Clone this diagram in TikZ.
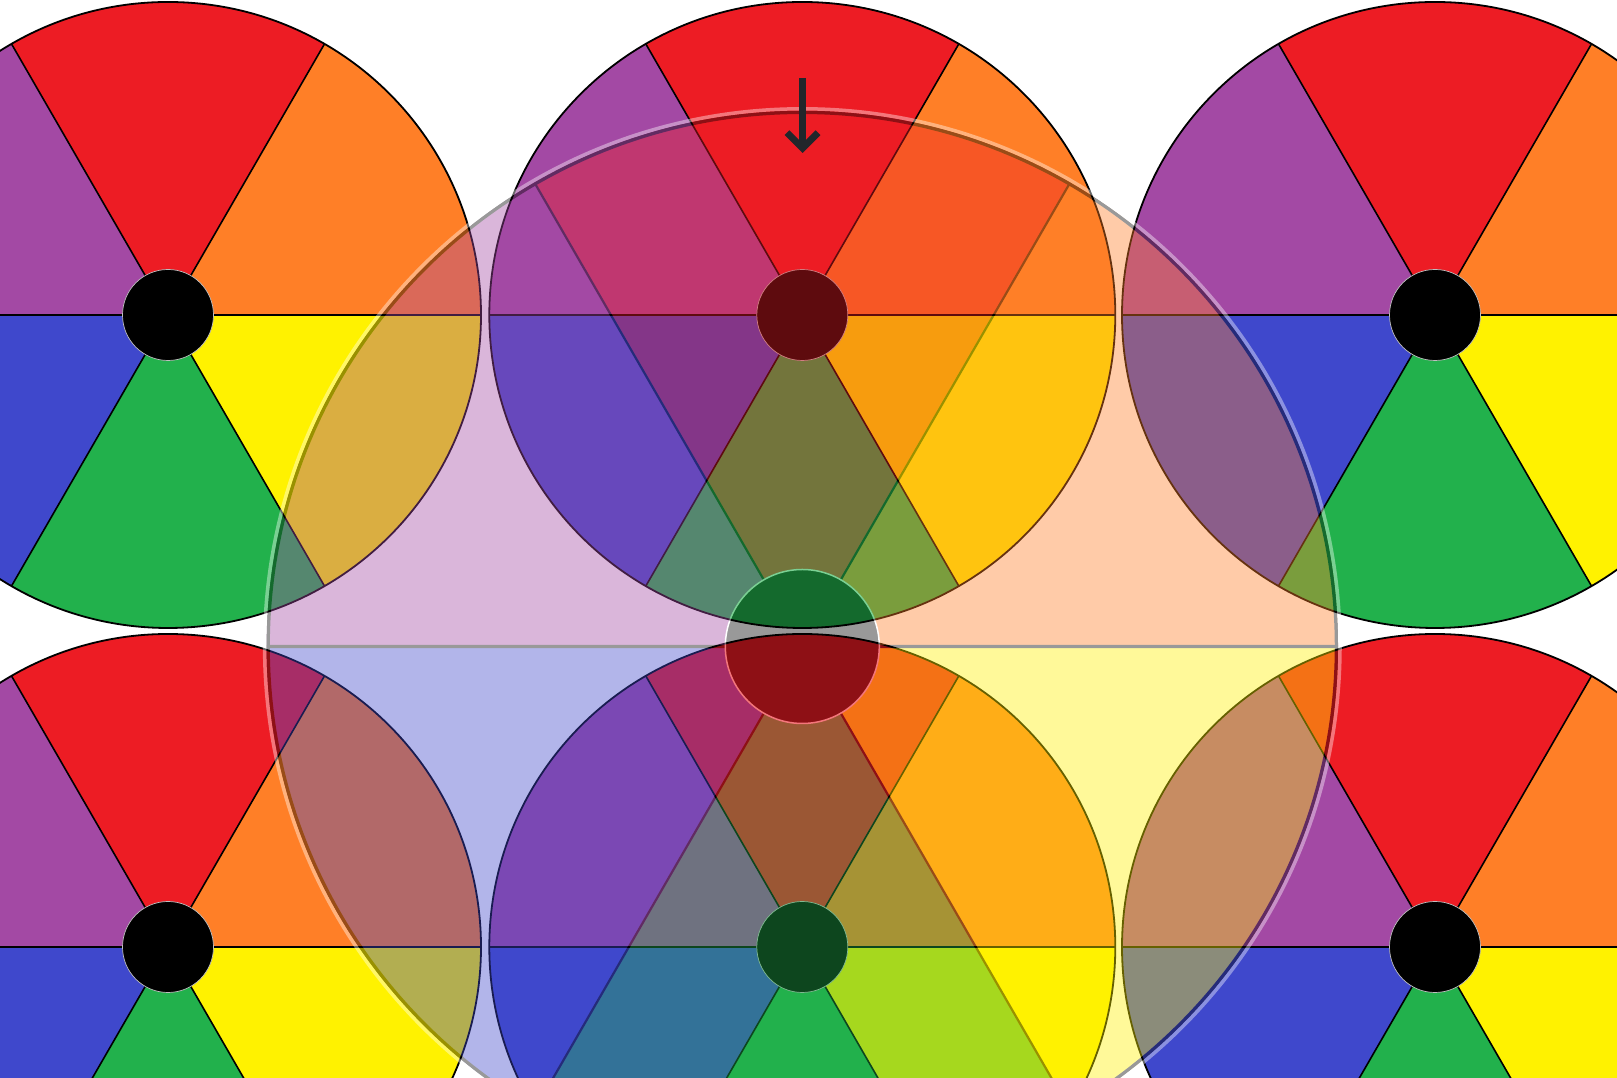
\documentclass[tikz,border=0pt]{standalone}
\usetikzlibrary{calc}
\definecolor{wred}{RGB}{237,28,36}
\definecolor{worange}{RGB}{255,127,39}
\definecolor{wyellow}{RGB}{255,242,0}
\definecolor{wgreen}{RGB}{34,177,76}
\definecolor{wblue}{RGB}{63,72,204}
\definecolor{wpurple}{RGB}{163,73,164}
\definecolor{arrowink}{RGB}{34,38,43}
\tikzset{
  spoke/.style={black, line width=1.6},
  rim/.style={black, line width=1.8},
  hub/.style={fill=black, draw=black!25, line width=0.7},
  ovspoke/.style={black, line width=2.2},
  ovaxis/.style={black, line width=3.4},
  ovdark/.style={black, line width=3.5},
  ovlight/.style={white, line width=3.5},
  ovhub/.style={fill=black, draw=white, line width=1.5},
  shaft/.style={arrowink, line width=6.8},
  barb/.style={arrowink, line width=6.8, line join=miter, miter limit=4},
  pics/smallwheel/.style={code={
    \foreach \ang/\col in {0/worange,60/wred,120/wpurple,180/wblue,240/wgreen,300/wyellow}
      \fill[\col] (0,0) -- (\ang:313) arc[start angle=\ang, delta angle=60, radius=313] -- cycle;
    \foreach \ang in {0,60,...,300}
      \draw[spoke] (0,0) -- (\ang:313);
    \draw[rim] (0,0) circle[radius=313];
    \path[hub] (0,0) circle[radius=45.5];
  }},
}
\begin{document}
\begin{tikzpicture}[x=1pt,y=1pt]
\useasboundingbox (0,0) rectangle (1617,1078);
\clip (0,0) rectangle (1617,1078);
\fill[white] (0,0) rectangle (1617,1078);
% the six small colour wheels
\coordinate (w11) at (168,763);
\coordinate (w12) at (802.3,763);
\coordinate (w13) at (1435,763);
\coordinate (w21) at (168,131);
\coordinate (w22) at (802.3,131);
\coordinate (w23) at (1435,131);
\foreach \w in {w11,w12,w13,w21,w22,w23}
  \pic at (\w) {smallwheel};
% the large translucent wheel
\coordinate (ov) at (802.3,431.5);
\begin{scope}[shift={(ov)}, transparency group, opacity=0.4]
  \foreach \ang/\col in {0/worange,60/wred,120/wpurple,180/wblue,240/wgreen,300/wyellow}
    \fill[\col] (0,0) -- (\ang:536) arc[start angle=\ang, delta angle=60, radius=536] -- cycle;
  \foreach \ang in {60,120,240,300}
    \draw[ovspoke] (0,0) -- (\ang:536);
  \draw[ovaxis] (-536,0) -- (536,0);
  \draw[ovdark] (0,0) circle[radius=534.2];
  \draw[ovlight] (0,0) circle[radius=537.7];
  \path[ovhub] (0,0) circle[radius=77];
\end{scope}
% the arrow
\coordinate (arrowtop) at (802.5,1000);
\coordinate (arrowtip) at (802.5,925);
\draw[shaft] (arrowtop) -- ($(arrowtip)+(0,7)$);
\draw[barb] ($(arrowtip)+(-15.5,20.3)$) -- ($(arrowtip)+(0,4.8)$) -- ($(arrowtip)+(15.5,20.3)$);
\end{tikzpicture}
\end{document}
